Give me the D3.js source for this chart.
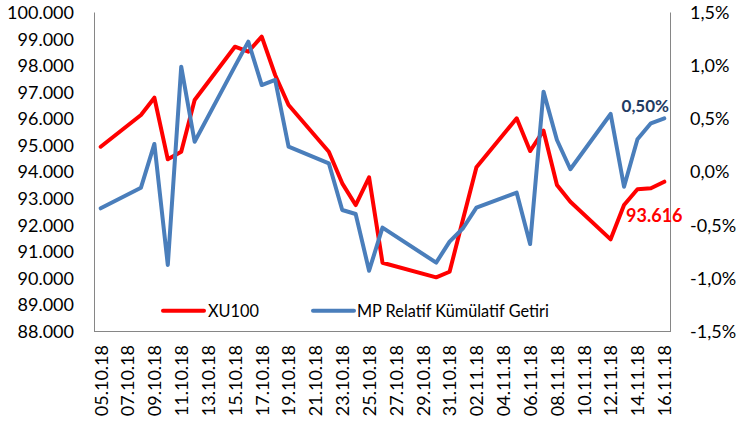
<!DOCTYPE html>
<html>
<head>
<meta charset="utf-8">
<script src="https://cdn.jsdelivr.net/npm/d3@7"></script>
<style>
  html, body { margin: 0; padding: 0; background: #fff; }
  svg { display: block; font-family: Lato, "Open Sans", sans-serif; }
</style>
</head>
<body>
<svg id="chart" width="739" height="427"></svg>
<script>
// ---- Data ----
const dates = ["05.10.18","08.10.18","09.10.18","10.10.18","11.10.18","12.10.18",
  "15.10.18","16.10.18","17.10.18","18.10.18","19.10.18",
  "22.10.18","23.10.18","24.10.18","25.10.18","26.10.18",
  "30.10.18","31.10.18","01.11.18","02.11.18",
  "05.11.18","06.11.18","07.11.18","08.11.18","09.11.18",
  "12.11.18","13.11.18","14.11.18","15.11.18","16.11.18"];
const xu100 = [94932, 96125, 96776, 94458, 94744, 96689,
  98695, 98506, 99071, 97630, 96501,
  94744, 93555, 92739, 93781, 90568,
  90019, 90229, 92200, 94157,
  96001, 94770, 95534, 93491, 92863,
  91448, 92739, 93330, 93368, 93616];
const mpRelative = [-0.346, -0.152, 0.259, -0.879, 0.986, 0.280,
  0.989, 1.221, 0.813, 0.861, 0.233,
  0.077, -0.362, -0.400, -0.933, -0.528,
  -0.857, -0.660, -0.534, -0.340,
  -0.199, -0.682, 0.751, 0.296, 0.021,
  0.541, -0.143, 0.303, 0.453, 0.500];
const xTickLabels = ["05.10.18","07.10.18","09.10.18","11.10.18","13.10.18","15.10.18",
  "17.10.18","19.10.18","21.10.18","23.10.18","25.10.18","27.10.18","29.10.18",
  "31.10.18","02.11.18","04.11.18","06.11.18","08.11.18","10.11.18","12.11.18",
  "14.11.18","16.11.18"];
const leftTicks = [88000, 89000, 90000, 91000, 92000, 93000, 94000, 95000, 96000, 97000, 98000, 99000, 100000];
const rightTicks = [-1.5, -1.0, -0.5, 0.0, 0.5, 1.0, 1.5];
const seriesNames = ["XU100", "MP Relatif Kümülatif Getiri"];
const seriesColors = ["#FF0000", "#4A7EBB"];
const lastLabels = ["93.616", "0,50%"];

// ---- Layout ----
const svg = d3.select("#chart");
const L = 94, R = 671, T = 12, B = 331;
const parse = d3.utcParse("%d.%m.%y");
const dayMs = 864e5;
const first = parse(dates[0]), last = parse(dates[dates.length - 1]);
const x = d3.scaleUtc()
  .domain([new Date(+first - dayMs / 2), new Date(+last + dayMs / 2)])
  .range([L, R]);
const yL = d3.scaleLinear().domain([88000, 100000]).range([B, T]);
const yR = d3.scaleLinear().domain([-1.5, 1.5]).range([B, T]);

const axisColor = "#868686";
const fs = 18;

// Left axis
const gL = svg.append("g").attr("transform", `translate(${L},0)`)
  .call(d3.axisLeft(yL).tickValues(leftTicks).tickSize(0).tickSizeOuter(0)
    .tickFormat(d => { const s = String(d); return s.slice(0, s.length - 3) + "." + s.slice(-3); }));
gL.select(".domain").attr("stroke", axisColor);
gL.selectAll("text").attr("x", -20).attr("dy", "0.36em")
  .attr("font-size", fs).attr("fill", "#000").attr("font-family", "Lato");

// Right axis
const gR = svg.append("g").attr("transform", `translate(${R - 1},0)`)
  .call(d3.axisRight(yR).tickValues(rightTicks).tickSize(0).tickSizeOuter(0)
    .tickFormat(d => d3.format(".1f")(d).replace(".", ",").replace("−", "-") + "%"));
gR.select(".domain").attr("stroke", axisColor);
gR.selectAll("text").attr("x", 20).attr("dy", "0.36em")
  .attr("font-size", fs).attr("fill", "#000").attr("font-family", "Lato");

// Bottom axis
const tickDates = xTickLabels.map(parse);
const gB = svg.append("g").attr("transform", `translate(0,${B})`)
  .call(d3.axisBottom(x).tickValues(tickDates).tickSize(0).tickSizeOuter(0)
    .tickFormat(d3.utcFormat("%d.%m.%y")));
gB.select(".domain").attr("stroke", axisColor).attr("d", `M${L},0.5H${R}`);
gB.selectAll("text").attr("x", null).attr("y", null).attr("dy", "0.35em")
  .attr("text-anchor", "end")
  .attr("transform", "translate(0,14) rotate(-90)")
  .attr("font-size", fs).attr("fill", "#000").attr("font-family", "Lato");

// Lines
const pts = dates.map((d, i) => ({ date: parse(d), a: xu100[i], b: mpRelative[i] }));
const lineA = d3.line().x(d => x(d.date)).y(d => yL(d.a));
const lineB = d3.line().x(d => x(d.date)).y(d => yR(d.b));

svg.append("path").datum(pts).attr("d", lineA)
  .attr("fill", "none").attr("stroke", seriesColors[0]).attr("stroke-width", 4)
  .attr("stroke-linejoin", "round").attr("stroke-linecap", "round");
svg.append("path").datum(pts).attr("d", lineB)
  .attr("fill", "none").attr("stroke", seriesColors[1]).attr("stroke-width", 4)
  .attr("stroke-linejoin", "round").attr("stroke-linecap", "round");

// Last-value labels
const lp = pts[pts.length - 1];
svg.append("text")
  .attr("x", x(lp.date) - 10).attr("y", yL(lp.a) + 34)
  .attr("text-anchor", "middle").attr("dy", "0.36em")
  .attr("font-size", fs).attr("font-weight", "bold").attr("fill", "#FF0000")
  .text(lastLabels[0]);
svg.append("text")
  .attr("x", x(lp.date) - 19).attr("y", yR(lp.b) - 12)
  .attr("text-anchor", "middle").attr("dy", "0.36em")
  .attr("font-size", 17).attr("font-weight", "bold").attr("fill", "#1F3B63")
  .text(lastLabels[1]);

// Legend
const legendItems = [
  { x1: 163, x2: 204, tx: 208 },
  { x1: 313, x2: 354, tx: 357 }
];
const ly = 310.7;
legendItems.forEach((it, i) => {
  svg.append("line").attr("x1", it.x1).attr("x2", it.x2).attr("y1", ly).attr("y2", ly)
    .attr("stroke", seriesColors[i]).attr("stroke-width", 4).attr("stroke-linecap", "round");
  svg.append("text").attr("x", it.tx).attr("y", ly)
    .attr("dy", "0.36em").attr("font-size", 16.3).attr("fill", "#000")
    .text(seriesNames[i]);
});
</script>
</body>
</html>
